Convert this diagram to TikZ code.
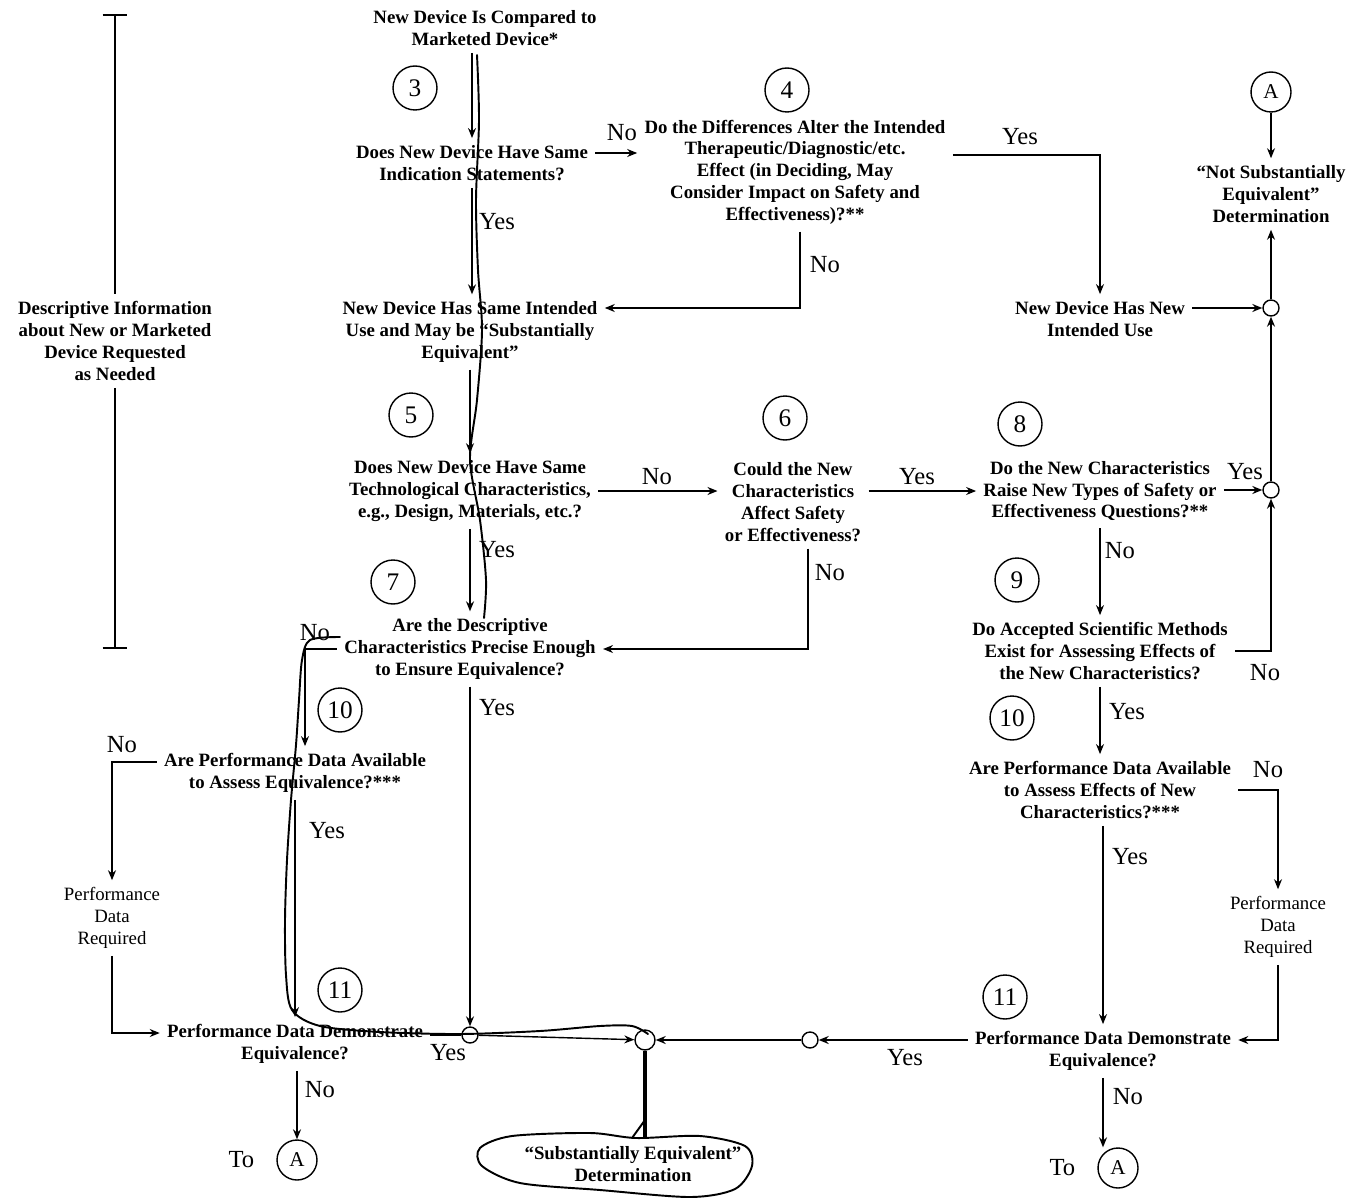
\documentclass[tikz,border=0pt]{standalone}
\usepackage{fontspec}
\setmainfont{Liberation Serif}
\usetikzlibrary{positioning}
\usetikzlibrary{arrows.meta}
\tikzset{
    numc/.style = {circle, thick, draw=black, minimum size=0.88cm, inner sep=0pt, font=\Large},
    letc/.style = {circle, thick, draw=black, minimum size=0.8cm, inner sep=0pt, font=\large},
    dotc/.style = {circle, thick, draw=black, minimum size=0.32cm, inner sep=0pt},
    txt/.style = {align=center, inner sep=4pt, font=\fontsize{10.7}{12.4}\selectfont\bfseries},
    txtl/.style = {align=center, inner sep=4pt, font=\fontsize{10.7}{12.4}\selectfont},
    lbl/.style = {font=\fontsize{14}{16}\selectfont, inner sep=1pt},
    edgen/.style = {-{Stealth[length=2mm,width=1.6mm]}, thick},
    linen/.style = {thick},
    hand/.style = {line width=1.1pt, line cap=round, line join=round}, % pen marks
}
\begin{document}
\begin{tikzpicture}[x=0.02cm, y=-0.02cm]
\useasboundingbox (0,0) rectangle (1351,1199);

% questions and results
\node[txt] (cmp) at (485,28) {New Device Is Compared to\\Marketed Device*};
\node[numc] (n3) at (415,88) {3};
\node[txt] (q3) at (472,163) {Does New Device Have Same\\Indication Statements?};
\node[numc] (n4) at (787,90) {4};
\node[txt] (q4) at (795,172) {Do the Differences Alter the Intended\\Therapeutic/Diagnostic/etc.\\Effect (in Deciding, May\\Consider Impact on Safety and\\Effectiveness)?**};
\node[letc] (A1) at (1271,92) {A};
\node[txt] (nse) at (1271,194) {``Not Substantially\\Equivalent''\\Determination};
\node[txt] (nu) at (1100,319) {New Device Has New\\Intended Use};
\node[dotc] (d1) at (1271,308) {};
\node[dotc] (d2) at (1271,490) {};
\node[txt] (su) at (470,332) {New Device Has Same Intended\\Use and May be ``Substantially\\Equivalent''};
\node[numc] (n5) at (411,415) {5};
\node[txt] (q5) at (470,491) {Does New Device Have Same\\Technological Characteristics,\\e.g., Design, Materials, etc.?};
\node[numc] (n6) at (785,418) {6};
\node[txt] (q6) at (793,502) {Could the New\\Characteristics\\Affect Safety\\or Effectiveness?};
\node[numc] (n8) at (1020,424) {8};
\node[txt] (q8) at (1100,491) {Do the New Characteristics\\Raise New Types of Safety or\\Effectiveness Questions?**};
\node[numc] (n9) at (1017,580) {9};
\node[txt] (q9) at (1100,651) {Do Accepted Scientific Methods\\Exist for Assessing Effects of\\the New Characteristics?};
\node[numc] (n10r) at (1012,718) {10};
\node[txt] (q10r) at (1100,790) {Are Performance Data Available\\to Assess Effects of New\\Characteristics?***};
\node[txtl] (pdr) at (1278,927) {Performance\\Data\\Required};
\node[numc] (n11r) at (1005,997) {11};
\node[txt] (q11r) at (1103,1051) {Performance Data Demonstrate\\Equivalence?};
\node[dotc] (d3) at (810,1040) {};
\node[dotc, minimum size=0.4cm] (dc) at (645,1040) {};
\node[txt] (sed) at (633,1164) {``Substantially Equivalent''\\Determination};
\node[letc] (A3) at (1118,1168) {A};
\node[lbl, left=0.4cm of A3] (to3) {To};

\node[numc] (n7) at (393,582) {7};
\node[txt] (q7) at (470,649) {Are the Descriptive\\Characteristics Precise Enough\\to Ensure Equivalence?};
\node[numc] (n10l) at (340,710) {10};
\node[txt] (q10l) at (295,773) {Are Performance Data Available\\to Assess Equivalence?***};
\node[txtl] (pdl) at (112,918) {Performance\\Data\\Required};
\node[numc] (n11l) at (340,990) {11};
\node[txt] (q11l) at (295,1044) {Performance Data Demonstrate\\Equivalence?};
\node[dotc] (d4) at (470,1035) {};
\node[letc] (A2) at (297,1160) {A};
\node[lbl, left=0.4cm of A2] (to2) {To};

\node[txt] (dsc) at (115,341) {Descriptive Information\\about New or Marketed\\Device Requested\\as Needed};
\coordinate (ibt) at (115,15);
\coordinate (ibb) at (115,648);
\draw[linen] (ibt) -- (dsc.north);
\draw[linen] (dsc.south) -- (ibb);
\draw[linen] ([xshift=-0.25cm]ibt) -- ([xshift=0.25cm]ibt);
\draw[linen] ([xshift=-0.25cm]ibb) -- ([xshift=0.25cm]ibb);

% connectors
\draw[edgen] (cmp.south -| q3.north) -- (q3.north);
\draw[edgen] ([yshift=0.2cm]q3.east) -- ([yshift=0.2cm]q3.east -| q4.west);
\draw[edgen] ([yshift=0.34cm]q4.east) -| (nu.north);
\draw[edgen] ([xshift=0.1cm]q4.south) |- ([yshift=0.48cm]su.east);
\draw[edgen] (q3.south) -- (q3.south |- su.north);
\draw[edgen] (A1) -- (nse.north);
\draw[edgen] (d1) -- (nse.south);
\draw[edgen] (d1 -| nu.east) -- (d1);
\draw[edgen] (d2) -- (d1);
\draw[edgen] (d2 -| q8.east) -- (d2);
\draw[edgen] (q9.east) -| (d2);
\draw[edgen] (su.south) -- (su.south |- q5.north);
\draw[edgen] (q5.east) -- (q5.east -| q6.west);
\draw[edgen] (q5.east -| q6.east) -- (q5.east -| q8.west);
\draw[edgen] ([xshift=0.3cm]q6.south) |- (q7.east);
\draw[edgen] (q8.south) -- (q9.north);
\draw[edgen] (q9.south) -- (q10r.north);
\draw[edgen] (q10r.east) -| (pdr.north);
\draw[edgen] (pdr.south) |- ([yshift=0.22cm]q11r.east);
\draw[edgen] ([xshift=0.06cm]q10r.south) -- ([xshift=0.06cm]q10r.south |- q11r.north);
\draw[edgen] (d3 -| q11r.west) -- (d3);
\draw[edgen] (d3) -- (dc);
\draw[edgen] (q11r.south) -- (q11r.south |- A3.north);
\draw[edgen] (q5.south) -- (q5.south |- q7.north);
\draw[edgen] (q7.west) -| ([xshift=0.2cm]q10l.north);
\draw[edgen] ([yshift=0.22cm]q10l.west) -| (pdl.north);
\draw[edgen] (pdl.south) |- ([yshift=0.22cm]q11l.west);
\draw[edgen] (q10l.south) -- (q11l.north);
\draw[linen] (d4 -| q11l.east) -- (d4);
\draw[edgen] (q7.south) -- (d4);
\draw[edgen] (d4) -- (dc);
\draw[line width=1.8pt] (dc) -- (dc |- sed.north);
\draw[edgen] (q11l.south -| A2) -- (A2);

% Yes / No
\node[lbl] (no3) at (622,133) {No};
\node[lbl] (yes4) at (1020,137) {Yes};
\node[lbl] (yes3) at (497,222) {Yes};
\node[lbl] (no4) at (825,265) {No};
\node[lbl] (no5) at (657,477) {No};
\node[lbl] (yes6) at (917,477) {Yes};
\node[lbl] (yes8) at (1245,472) {Yes};
\node[lbl] (no8) at (1120,551) {No};
\node[lbl] (no6) at (830,573) {No};
\node[lbl] (yes5) at (497,550) {Yes};
\node[lbl] (no9) at (1265,673) {No};
\node[lbl] (yes9) at (1127,712) {Yes};
\node[lbl] (no10r) at (1268,770) {No};
\node[lbl] (yes10r) at (1130,857) {Yes};
\node[lbl] (yes11r) at (905,1058) {Yes};
\node[lbl] (no11r) at (1128,1097) {No};
\node[lbl] (no7) at (315,633) {No};
\node[lbl] (no10l) at (122,745) {No};
\node[lbl] (yes10l) at (327,831) {Yes};
\node[lbl] (yes7) at (497,708) {Yes};
\node[lbl] (yes11l) at (448,1053) {Yes};
\node[lbl] (no11l) at (320,1090) {No};

% pen marks
\draw[hand] plot[smooth] coordinates {(477,55) (479,120) (476,200) (478,270) (482,330) (477,400) (470,460) (480,520) (486,580) (484,618)};
\draw[hand] plot[smooth] coordinates {(340,637) (310,640) (302,660) (299,700) (296,745) (291,800) (287,860) (285,920) (286,975) (292,1010) (320,1026) (380,1032) (460,1034) (540,1031) (600,1026) (632,1026) (648,1034)};
\draw[hand] (645,1120) -- (632,1138);
\draw[hand] plot[smooth cycle] coordinates {(636,1138) (700,1136) (745,1146) (752,1166) (735,1189) (690,1197) (600,1190) (520,1183) (482,1166) (480,1148) (512,1136) (590,1133)};

\end{tikzpicture}
\end{document}
